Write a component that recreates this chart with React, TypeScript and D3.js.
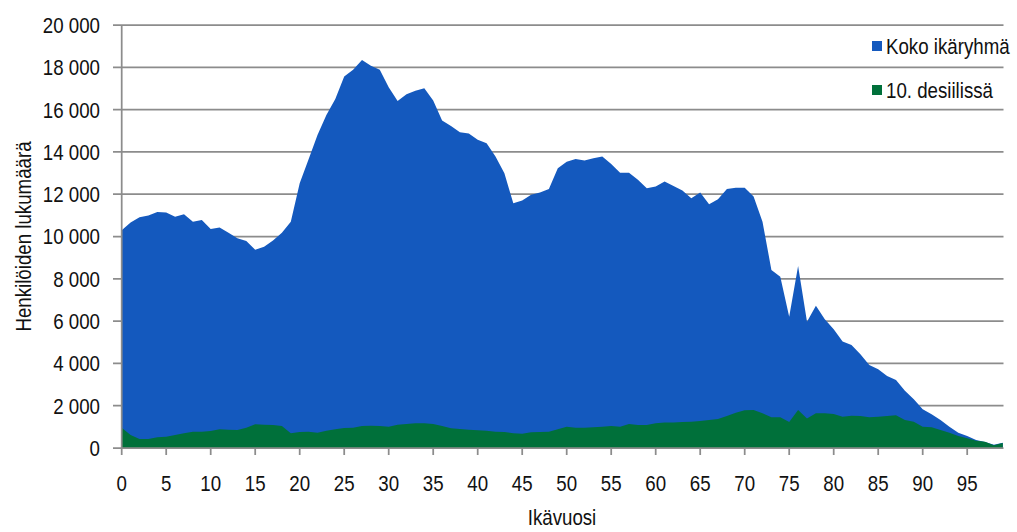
import React, { useEffect, useRef } from "react";
import * as d3 from "d3";

// Age in whole years, 0–99
const ages: number[] = d3.range(0, 100);

// Number of persons, whole age group
const kokoIkaryhma: number[] = [
  10300, 10660, 10910, 10990, 11160, 11130, 10930, 11050, 10700, 10780,
  10360, 10420, 10180, 9920, 9790, 9370, 9520, 9810, 10180, 10700,
  12520, 13650, 14800, 15750, 16500, 17560, 17880, 18350, 18070, 17880,
  17060, 16410, 16730, 16890, 17010, 16430, 15480, 15230, 14930, 14870,
  14570, 14410, 13780, 12990, 11570, 11700, 11970, 12080, 12250, 13230,
  13540, 13670, 13590, 13700, 13780, 13430, 13020, 13020, 12680, 12280,
  12360, 12600, 12390, 12170, 11810, 12080, 11530, 11760, 12240, 12300,
  12310, 11890, 10700, 8420, 8100, 6210, 8610, 5970, 6720, 6090,
  5610, 5030, 4870, 4430, 3930, 3720, 3410, 3220, 2710, 2300,
  1830, 1590, 1320, 1010, 720, 570, 380, 280, 150, 250,
];

// Number of persons in the 10th decile
const kymmenesDesiili: number[] = [
  960, 615, 425, 425, 505, 535, 615, 695, 770, 770,
  805, 885, 865, 850, 960, 1120, 1100, 1090, 1040, 695,
  757, 770, 725, 820, 885, 945, 960, 1040, 1055, 1040,
  1010, 1100, 1135, 1170, 1170, 1135, 1040, 930, 900, 865,
  835, 820, 770, 757, 695, 675, 740, 757, 770, 885,
  1010, 960, 960, 980, 1010, 1040, 1010, 1135, 1090, 1090,
  1170, 1200, 1200, 1230, 1245, 1280, 1325, 1370, 1515, 1670,
  1780, 1800, 1640, 1450, 1450, 1230, 1800, 1400, 1640, 1640,
  1610, 1480, 1530, 1515, 1450, 1480, 1515, 1545, 1325, 1245,
  1010, 980, 850, 725, 570, 460, 345, 300, 130, 240,
];

const yTicks: number[] = [0, 2000, 4000, 6000, 8000, 10000, 12000, 14000, 16000, 18000, 20000];
const xTicks: number[] = [0, 5, 10, 15, 20, 25, 30, 35, 40, 45, 50, 55, 60, 65, 70, 75, 80, 85, 90, 95];

const seriesNames: string[] = ["Koko ikäryhmä", "10. desiilissä"];
const seriesColors: string[] = ["#1459BE", "#00703A"];

const W = 1017;
const H = 532;
const FONT = "'Liberation Sans', Arial, sans-serif";
const FONT_SIZE = 22;
const NARROW = 0.85; // horizontal squeeze for a condensed look
const GRID = "#8c8c8c";

type G = d3.Selection<SVGGElement, unknown, null, undefined>;

function label(
  g: G,
  x: number,
  y: number,
  text: string,
  anchor: "start" | "middle" | "end",
  rotate = 0,
  dy = "0"
) {
  g.append("text")
    .attr("transform", `translate(${x},${y}) rotate(${rotate}) scale(${NARROW},1)`)
    .attr("dy", dy)
    .attr("text-anchor", anchor)
    .attr("font-family", FONT)
    .attr("font-size", FONT_SIZE)
    .attr("fill", "#111")
    .text(text);
}

export default function App() {
  const ref = useRef<SVGSVGElement | null>(null);

  useEffect(() => {
    const svg = d3.select(ref.current);
    svg.selectAll("*").remove();

    const x = d3.scaleLinear().domain([0, 99]).range([121.7, 1002.8]);
    const y = d3.scaleLinear().domain([0, 20000]).range([448, 25]);
    const fmt = d3
      .formatLocale({ decimal: ",", thousands: " ", grouping: [3], currency: ["", "€"] })
      .format(",d");

    // Horizontal gridlines with left tick stubs
    svg
      .append("g")
      .selectAll("line")
      .data(yTicks.filter((t) => t > 0))
      .join("line")
      .attr("x1", 113)
      .attr("x2", 1003.5)
      .attr("y1", (d) => y(d))
      .attr("y2", (d) => y(d))
      .attr("stroke", GRID)
      .attr("stroke-width", 1.75);

    const area = (vals: number[]) =>
      d3
        .area<number>()
        .x((d) => x(d))
        .y0(y(0))
        .y1((d, i) => y(vals[i]))(ages);

    svg.append("path").attr("d", area(kokoIkaryhma)!).attr("fill", seriesColors[0]);
    svg.append("path").attr("d", area(kymmenesDesiili)!).attr("fill", seriesColors[1]);

    // Axes
    const axes = svg.append("g").attr("stroke", GRID).attr("stroke-width", 1.75);
    axes.append("line").attr("x1", x(0)).attr("x2", x(0)).attr("y1", y(20000)).attr("y2", y(0));
    axes.append("line").attr("x1", 113).attr("x2", 1003.5).attr("y1", y(0)).attr("y2", y(0));
    axes
      .selectAll("line.xt")
      .data(xTicks)
      .join("line")
      .attr("class", "xt")
      .attr("x1", (d) => x(d))
      .attr("x2", (d) => x(d))
      .attr("y1", y(0))
      .attr("y2", y(0) + 7);

    const texts = svg.append("g") as unknown as G;

    // Y tick labels
    yTicks.forEach((t) => label(texts, 100, y(t), fmt(t), "end", 0, "0.36em"));

    // X tick labels
    xTicks.forEach((t) => label(texts, x(t), 491, String(t), "middle"));

    // Axis titles
    label(texts, 562, 525, "Ikävuosi", "middle");
    label(texts, 31, (y(0) + y(20000)) / 2, "Henkilöiden lukumäärä", "middle", -90);

    // Legend
    const rows = [46, 90];
    seriesNames.forEach((name, i) => {
      texts
        .append("rect")
        .attr("x", 872)
        .attr("y", rows[i] - 5)
        .attr("width", 10)
        .attr("height", 10)
        .attr("fill", seriesColors[i]);
      label(texts, 886, rows[i], name, "start", 0, "0.36em");
    });
  }, []);

  return (
    <svg
      ref={ref}
      width={W}
      height={H}
      style={{ position: "fixed", left: 0, top: 0, background: "#fff" }}
    />
  );
}
